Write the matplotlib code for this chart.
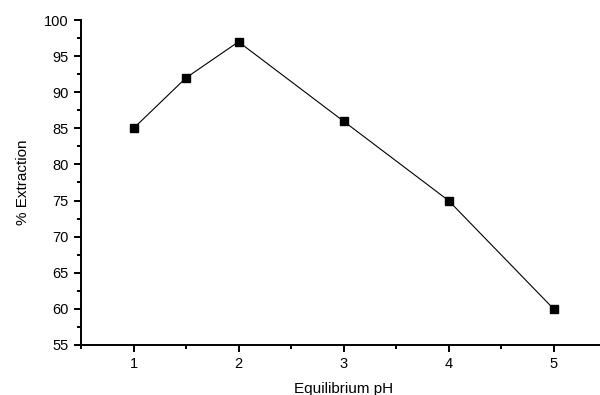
"""Percent extraction vs equilibrium pH."""

import matplotlib

matplotlib.use("Agg")
import matplotlib.pyplot as plt
from matplotlib.ticker import MultipleLocator

ph = [1, 1.5, 2, 3, 4, 5]
extraction = [85, 92, 97, 86, 75, 60]

plt.rcParams["font.family"] = ["Liberation Sans", "DejaVu Sans"]

fig = plt.figure(figsize=(6, 3.95), dpi=100)
ax = fig.add_axes([0.135, 0.127, 0.875, 0.822])

ax.plot(ph, extraction, color="black", linewidth=0.8, marker="s",
        markersize=6, markerfacecolor="black", markeredgecolor="black",
        clip_on=False)

ax.set_xlim(0.5, 5.5)
ax.set_ylim(55, 100)
ax.xaxis.set_minor_locator(MultipleLocator(0.5))
ax.yaxis.set_major_locator(MultipleLocator(5))
ax.yaxis.set_minor_locator(MultipleLocator(2.5))
ax.set_xticks([1, 2, 3, 4, 5])

for side in ("top", "right"):
    ax.spines[side].set_visible(False)
for side in ("left", "bottom"):
    ax.spines[side].set_linewidth(1.4)

ax.tick_params(which="major", direction="out", length=5, width=1.4,
               labelsize=10.5, pad=4)
ax.tick_params(which="minor", direction="out", length=3, width=1.4)

ax.set_xlabel("Equilibrium pH", fontsize=11, labelpad=8)
ax.set_ylabel("% Extraction", fontsize=11, labelpad=10)

fig.savefig("out.png", dpi=100)
